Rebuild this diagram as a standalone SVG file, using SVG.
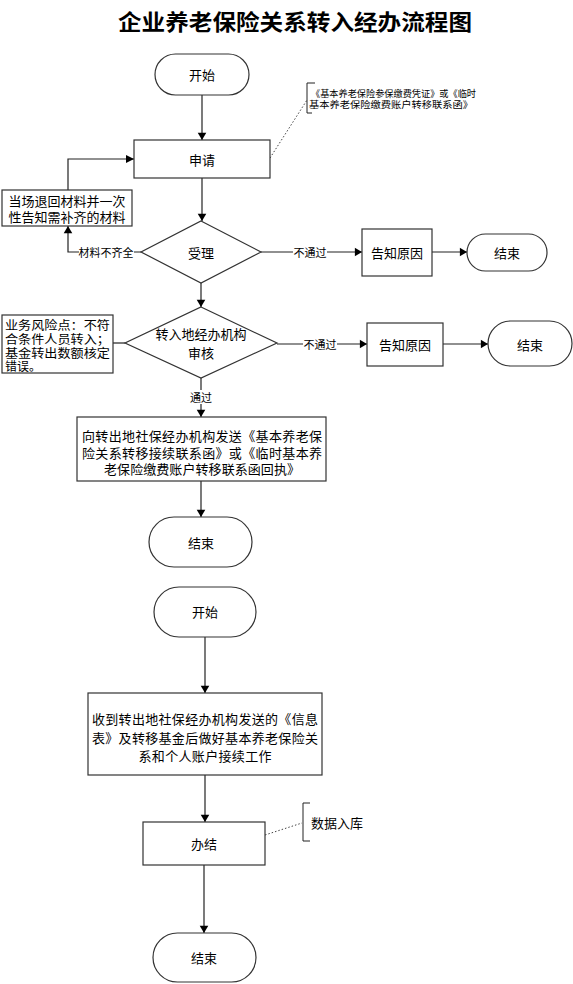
<svg xmlns="http://www.w3.org/2000/svg" width="573" height="984" viewBox="0 0 573 984">
<defs>
<marker id="ah" viewBox="0 0 10 10" refX="10" refY="5" markerWidth="8" markerHeight="8" orient="auto" markerUnits="userSpaceOnUse">
<path d="M0,0 L10,5 L0,10 z" fill="#000"/>
</marker>
<marker id="av" viewBox="0 0 10 14" refX="10" refY="7" markerWidth="14" markerHeight="10" orient="auto" markerUnits="userSpaceOnUse">
<path d="M0,1 L10,7 L0,13 z" fill="#000"/>
</marker>
</defs>
<style>
text{font-family:"Noto Sans CJK SC","Liberation Sans",sans-serif;fill:#000;}
.t{font-size:13px;text-anchor:middle;dominant-baseline:central;}
.tl{font-size:13px;dominant-baseline:central;}
.rk{font-size:12px;dominant-baseline:central;}
.lbl{font-size:11px;text-anchor:middle;dominant-baseline:central;}
.note{font-size:9.5px;dominant-baseline:central;}
.sh{fill:#fff;stroke:#333;stroke-width:1.2;}
.ln{fill:none;stroke:#222;stroke-width:1.2;}
.dot{fill:none;stroke:#444;stroke-width:1;stroke-dasharray:1.5,2;}
.bg{fill:#fff;}
</style>
<rect width="573" height="984" fill="#fff"/>
<text x="295" y="20" style="font-size:22px;font-weight:bold;text-anchor:middle;dominant-baseline:central;" textLength="354" lengthAdjust="spacingAndGlyphs">企业养老保险关系转入经办流程图</text>

<g id="connectors">
<line class="ln" x1="202" y1="95" x2="202" y2="140" marker-end="url(#av)"/>
<line class="ln" x1="202" y1="178" x2="202" y2="221" marker-end="url(#av)"/>
<polyline class="ln" points="68,190 68,159 134,159" marker-end="url(#ah)"/>
<polyline class="ln" points="141,252 68,252 68,226" marker-end="url(#av)"/>
<rect class="bg" x="79" y="245" width="55" height="14"/>
<text class="lbl" x="106" y="252">材料不齐全</text>
<line class="ln" x1="261" y1="252" x2="362" y2="252" marker-end="url(#av)"/>
<rect class="bg" x="293" y="245" width="34" height="14"/>
<text class="lbl" x="310" y="252">不通过</text>
<line class="ln" x1="432" y1="252" x2="467" y2="252" marker-end="url(#av)"/>
<line class="ln" x1="201" y1="283" x2="201" y2="307" marker-end="url(#av)"/>
<line class="ln" x1="113" y1="343" x2="125" y2="343"/>
<line class="ln" x1="277" y1="344" x2="367" y2="344" marker-end="url(#av)"/>
<rect class="bg" x="303" y="337" width="34" height="14"/>
<text class="lbl" x="320" y="344">不通过</text>
<line class="ln" x1="443" y1="344" x2="488" y2="344" marker-end="url(#av)"/>
<line class="ln" x1="201" y1="378" x2="201" y2="417" marker-end="url(#av)"/>
<rect class="bg" x="189" y="390" width="24" height="14"/>
<text class="lbl" x="201" y="397">通过</text>
<line class="ln" x1="201" y1="481" x2="201" y2="517" marker-end="url(#av)"/>
<line class="ln" x1="205" y1="637" x2="205" y2="693" marker-end="url(#av)"/>
<line class="ln" x1="205" y1="775" x2="205" y2="822" marker-end="url(#av)"/>
<line class="ln" x1="204" y1="865" x2="204" y2="933" marker-end="url(#av)"/>
<line class="dot" x1="270" y1="158" x2="307" y2="100"/>
<line class="dot" x1="265" y1="835" x2="302" y2="823"/>
</g>

<g id="start1">
<rect class="sh" x="155" y="54" width="94" height="41" rx="20.5"/>
<text class="t" x="202" y="74">开始</text>
</g>
<g id="apply">
<rect class="sh" x="134" y="140" width="136" height="38"/>
<text class="t" x="202" y="159">申请</text>
</g>
<g id="note1">
<polyline class="ln" points="315,83 307,83 307,113 312,113" style="stroke-width:1"/>
<text class="note" x="311" y="93" textLength="165" lengthAdjust="spacingAndGlyphs">《基本养老保险参保缴费凭证》或《临时</text>
<text class="note" x="309" y="104" textLength="164" lengthAdjust="spacingAndGlyphs">基本养老保险缴费账户转移联系函》</text>
</g>
<g id="returnbox">
<rect class="sh" x="2" y="190" width="130" height="36"/>
<text class="t" x="67" y="200">当场退回材料并一次</text>
<text class="t" x="67" y="216">性告知需补齐的材料</text>
</g>
<g id="accept">
<polygon class="sh" points="201,221 261,252 201,283 141,252"/>
<text class="t" x="201" y="252">受理</text>
</g>
<g id="reason1">
<rect class="sh" x="362" y="229" width="70" height="47"/>
<text class="t" x="397" y="252">告知原因</text>
</g>
<g id="end1">
<rect class="sh" x="467" y="234" width="80" height="37" rx="18.5"/>
<text class="t" x="507" y="252">结束</text>
</g>
<g id="risk">
<rect class="sh" x="2" y="315" width="111" height="58"/>
<text class="rk" x="5" y="324" textLength="105" lengthAdjust="spacingAndGlyphs">业务风险点：不符</text>
<text class="rk" x="5" y="338" textLength="105" lengthAdjust="spacingAndGlyphs">合条件人员转入；</text>
<text class="rk" x="5" y="352" textLength="105" lengthAdjust="spacingAndGlyphs">基金转出数额核定</text>
<text class="rk" x="5" y="365">错误。</text>
</g>
<g id="review">
<polygon class="sh" points="201,307 277,343 201,378 125,343"/>
<text class="t" x="201" y="333">转入地经办机构</text>
<text class="t" x="201" y="352">审核</text>
</g>
<g id="reason2">
<rect class="sh" x="367" y="323" width="76" height="43"/>
<text class="t" x="405" y="344">告知原因</text>
</g>
<g id="end2">
<rect class="sh" x="488" y="321" width="84" height="45" rx="22.5"/>
<text class="t" x="530" y="344">结束</text>
</g>
<g id="send">
<rect class="sh" x="77" y="417" width="249" height="64"/>
<text class="t" x="202" y="435" textLength="240">向转出地社保经办机构发送《基本养老保</text>
<text class="t" x="202" y="452" textLength="240">险关系转移接续联系函》或《临时基本养</text>
<text class="t" x="202" y="468" textLength="196">老保险缴费账户转移联系函回执》</text>
</g>
<g id="end3">
<rect class="sh" x="149" y="517" width="103" height="50" rx="25"/>
<text class="t" x="201" y="542">结束</text>
</g>
<g id="start2">
<rect class="sh" x="154" y="587" width="102" height="50" rx="25"/>
<text class="t" x="205" y="611">开始</text>
</g>
<g id="receive">
<rect class="sh" x="88" y="693" width="234" height="82"/>
<text class="t" x="205" y="718" textLength="226">收到转出地社保经办机构发送的《信息</text>
<text class="t" x="205" y="737" textLength="226">表》及转移基金后做好基本养老保险关</text>
<text class="t" x="205" y="755" textLength="133">系和个人账户接续工作</text>
</g>
<g id="finish">
<rect class="sh" x="143" y="822" width="122" height="43"/>
<text class="t" x="204" y="843">办结</text>
</g>
<g id="note2">
<polyline class="ln" points="310,803 303,803 303,841 310,841" style="stroke-width:1"/>
<text class="tl" x="311" y="822">数据入库</text>
</g>
<g id="end4">
<rect class="sh" x="153" y="933" width="103" height="49" rx="24.5"/>
<text class="t" x="204" y="957">结束</text>
</g>
</svg>
